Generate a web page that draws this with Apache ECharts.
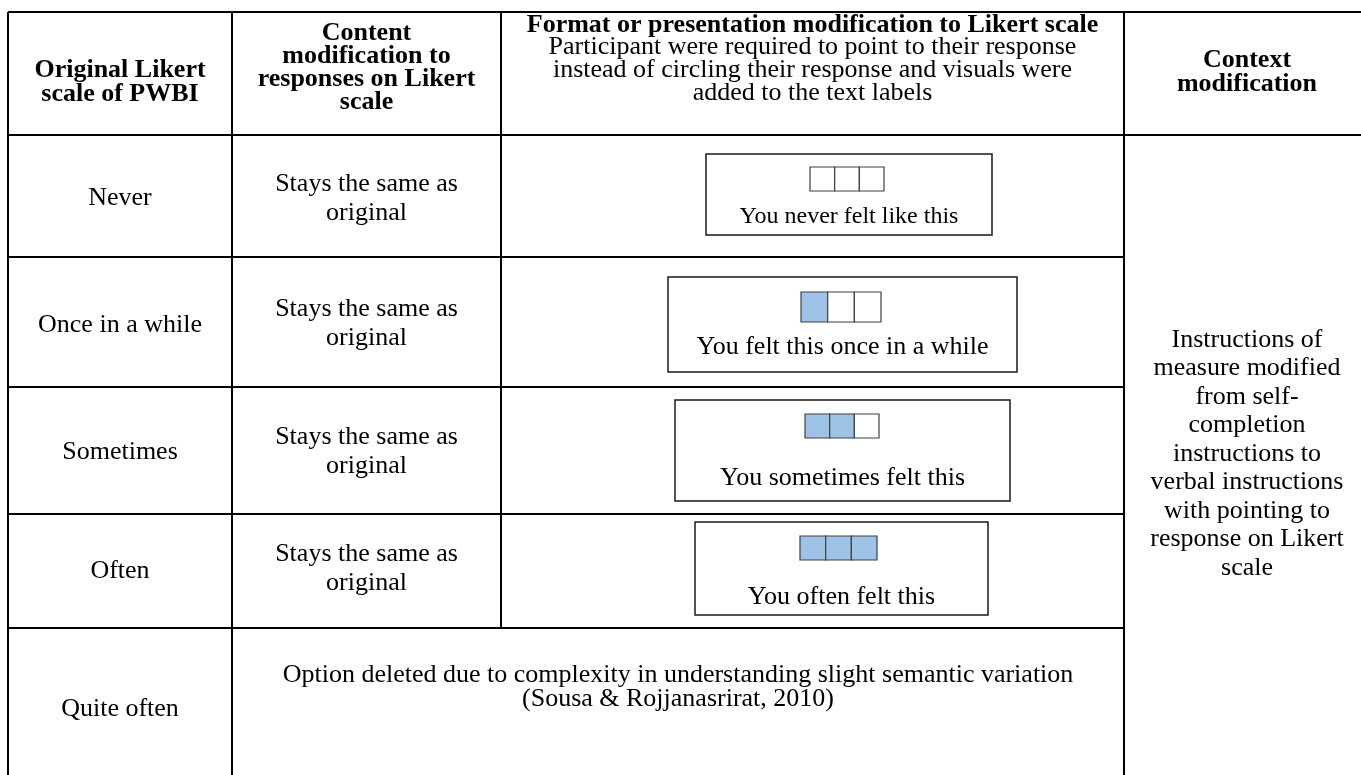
<!DOCTYPE html>
<html><head><meta charset="utf-8">
<script src="https://cdn.jsdelivr.net/npm/echarts@6/dist/echarts.min.js"></script>
<style>html,body{margin:0;padding:0;background:#fff}#c{width:1361px;height:775px}</style>
</head><body><div id="c"></div>
<script>
// ---------------- data ----------------
const columnHeaders = [
  'Original Likert\nscale of PWBI',
  'Content\nmodification to\nresponses on Likert\nscale',
  'Format or presentation modification to Likert scale',
  'Context\nmodification'
];
const formatHeaderNote = 'Participant were required to point to their response\ninstead of circling their response and visuals were\nadded to the text labels';
const likertOptions = ['Never', 'Once in a while', 'Sometimes', 'Often', 'Quite often'];
const contentModifications = ['Stays the same as\noriginal', 'Stays the same as\noriginal', 'Stays the same as\noriginal', 'Stays the same as\noriginal'];
const formatLabels = ['You never felt like this', 'You felt this once in a while', 'You sometimes felt this', 'You often felt this'];
const filledBoxes = [0, 1, 2, 3];
const boxesPerScale = 3;
const deletedNote = 'Option deleted due to complexity in understanding slight semantic variation\n(Sousa & Rojjanasrirat, 2010)';
const contextModification = 'Instructions of\nmeasure modified\nfrom self-\ncompletion\ninstructions to\nverbal instructions\nwith pointing to\nresponse on Likert\nscale';

// ---------------- layout (positions / sizes / styles) ----------------
const W = 1361, H = 775;
const colEdges = [8, 232, 501, 1124, 1370];
const rowEdges = [12, 135, 257, 387, 514, 628, 790];
const headerLayout = [
  {cy: 82, lh: 24},
  {cy: 68, lh: 23},
  {cy: 25, lh: 23},
  {cy: 72, lh: 24}
];
const headerNoteCy = 70;
const contentCy = [199, 324, 452, 569];
const responseLayout = [
  {box: [706, 154, 992, 235], sq: [810, 167, 74, 24], ty: 217, fs: 24},
  {box: [668, 277, 1017, 372], sq: [801, 292, 80, 30], ty: 347, fs: 26},
  {box: [675, 400, 1010, 501], sq: [805, 414, 74, 24], ty: 478, fs: 26},
  {box: [695, 522, 988, 615], sq: [800, 536, 77, 24], ty: 597, fs: 26}
];
const likertDy = [2, 3, 2, 0, 0];
const deletedCy = 687;
const contextCy = 454;
const FONT = '"Liberation Serif", "Times New Roman", serif';
const FILL = '#9DC3E6';

function txt(api, text, x, y, o) {
  const p = api.coord([x, y]);
  return {type: 'text', style: Object.assign({
    text: text, x: p[0], y: p[1], fill: '#000', fontFamily: FONT, fontSize: 26,
    fontWeight: 'normal', align: 'center', verticalAlign: 'middle', lineHeight: 28
  }, o || {})};
}
function seg(api, x1, y1, x2, y2, w, c) {
  const a = api.coord([x1, y1]), b = api.coord([x2, y2]);
  return {type: 'line', shape: {x1: a[0], y1: a[1], x2: b[0], y2: b[1]}, style: {stroke: c || '#000', lineWidth: w || 2}};
}
function rect(api, x0, y0, x1, y1, style) {
  const a = api.coord([x0, y0]), b = api.coord([x1, y1]);
  return {type: 'rect', shape: {x: a[0], y: a[1], width: b[0] - a[0], height: b[1] - a[1]}, style: style};
}
const mid = (a, b) => (a + b) / 2;

// table rule segments built from edges
const segments = [];
segments.push([colEdges[0], rowEdges[0], colEdges[4], rowEdges[0]]);
segments.push([colEdges[0], rowEdges[1], colEdges[4], rowEdges[1]]);
for (let r = 2; r <= 5; r++) segments.push([colEdges[0], rowEdges[r], colEdges[3], rowEdges[r]]);
[0, 1, 3].forEach(c => segments.push([colEdges[c], rowEdges[0], colEdges[c], rowEdges[6]]));
segments.push([colEdges[2], rowEdges[0], colEdges[2], rowEdges[5]]);

const option = {
  animation: false,
  backgroundColor: '#fff',
  grid: {left: 0, right: 0, top: 0, bottom: 0},
  xAxis: {type: 'value', min: 0, max: W, show: false},
  yAxis: {type: 'value', min: 0, max: H, inverse: true, show: false},
  series: [
    { // table rules
      type: 'custom', silent: true, clip: true,
      data: segments.map((s, i) => [i]),
      renderItem: (params, api) => {
        const s = segments[api.value(0)];
        return seg(api, s[0], s[1], s[2], s[3], 2);
      }
    },
    { // header row
      type: 'custom', silent: true,
      data: columnHeaders.map((t, i) => [i]),
      renderItem: (params, api) => {
        const i = api.value(0);
        const cx = mid(colEdges[i], colEdges[i + 1]);
        const L = headerLayout[i];
        const children = [txt(api, columnHeaders[i], cx, L.cy, {fontWeight: 'bold', lineHeight: L.lh})];
        if (i === 2) children.push(txt(api, formatHeaderNote, cx, headerNoteCy, {lineHeight: 23}));
        return {type: 'group', children: children};
      }
    },
    { // original Likert options
      type: 'custom', silent: true,
      data: likertOptions.map((t, i) => [i]),
      renderItem: (params, api) => {
        const i = api.value(0);
        return txt(api, likertOptions[i], mid(colEdges[0], colEdges[1]), mid(rowEdges[i + 1], rowEdges[i + 2]) + likertDy[i]);
      }
    },
    { // content modification
      type: 'custom', silent: true,
      data: contentModifications.map((t, i) => [i]),
      renderItem: (params, api) => {
        const i = api.value(0);
        return txt(api, contentModifications[i], mid(colEdges[1], colEdges[2]), contentCy[i], {lineHeight: 29});
      }
    },
    { // format / presentation response boxes
      type: 'custom', silent: true,
      data: filledBoxes.map((n, i) => [i, n]),
      renderItem: (params, api) => {
        const i = api.value(0), n = api.value(1);
        const L = responseLayout[i];
        const ch = [rect(api, L.box[0], L.box[1], L.box[2], L.box[3], {fill: '#fff', stroke: '#1a1a1a', lineWidth: 1.5})];
        const w = L.sq[2] / boxesPerScale;
        for (let k = 0; k < boxesPerScale; k++) {
          const x0 = L.sq[0] + k * w;
          ch.push(rect(api, x0, L.sq[1], x0 + w, L.sq[1] + L.sq[3], {fill: k < n ? FILL : '#fff', stroke: '#404040', lineWidth: 1.2}));
        }
        ch.push(txt(api, formatLabels[i], mid(L.box[0], L.box[2]), L.ty, {fontSize: L.fs}));
        return {type: 'group', children: ch};
      }
    },
    { // deleted option note (merged cell)
      type: 'custom', silent: true,
      data: [[0]],
      renderItem: (params, api) => txt(api, deletedNote, mid(colEdges[1], colEdges[3]), deletedCy, {lineHeight: 24})
    },
    { // context modification (merged column)
      type: 'custom', silent: true,
      data: [[0]],
      renderItem: (params, api) => txt(api, contextModification, mid(colEdges[3], colEdges[4]), contextCy, {lineHeight: 28.5})
    }
  ]
};
const chart = echarts.init(document.getElementById('c'));
chart.setOption(option);
</script>
</body></html>
